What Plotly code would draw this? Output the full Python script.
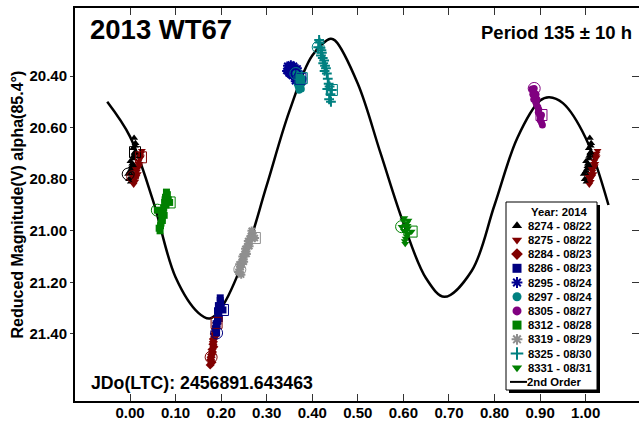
import plotly.graph_objects as go

# ---------------- data ----------------
curve_phase = [-0.05, 0.00, 0.05, 0.10, 0.15, 0.175, 0.20, 0.25, 0.30, 0.35, 0.40, 0.44, 0.45, 0.50,
               0.55, 0.60, 0.65, 0.69, 0.75, 0.80, 0.85, 0.90, 0.92, 0.95, 1.00, 1.05]
curve_mag = [20.50, 20.635, 20.88, 21.18, 21.318, 21.340, 21.30, 21.11, 20.824, 20.535, 20.32, 20.255, 20.262, 20.43,
             20.70, 20.97, 21.185, 21.256, 21.155, 20.90, 20.64, 20.495, 20.482, 20.505, 20.64, 20.90]

session_ids = ["8274", "8275", "8284", "8286", "8295", "8297", "8305", "8312", "8319", "8325", "8331"]
session_dates = ["08/22", "08/22", "08/23", "08/23", "08/24", "08/24", "08/27", "08/28", "08/29", "08/30", "08/31"]
session_colors = ["#000000", "#800000", "#800000", "#000080", "#000090", "#008080", "#800080",
                  "#008000", "#8f8f8f", "#008080", "#008000"]
session_symbols = ["triangle-up", "triangle-down", "diamond", "square", "asterisk-open", "circle", "circle",
                   "square", "asterisk-open", "cross-thin-open", "triangle-down"]

p8274 = [-0.004, -0.002, 0.000, 0.002, 0.004, 0.006, 0.008, 0.010, 0.012, 0.009, 0.007, 0.005, 0.003, 0.001, 0.011, 0.013, 0.008, 0.006, 0.010, 0.011]
m8274 = [20.78, 20.80, 20.77, 20.81, 20.75, 20.79, 20.72, 20.70, 20.66, 20.64, 20.68, 20.74, 20.76, 20.73, 20.67, 20.70, 20.71, 20.78, 20.75, 20.695]
p8275 = [0.006, 0.008, 0.010, 0.012, 0.014, 0.016, 0.018, 0.020, 0.022, 0.024, 0.026, 0.011, 0.015, 0.019, 0.023, 0.017, 0.013, 0.021, 0.024]
m8275 = [20.79, 20.82, 20.80, 20.78, 20.79, 20.76, 20.74, 20.75, 20.72, 20.70, 20.69, 20.81, 20.77, 20.73, 20.71, 20.78, 20.76, 20.74, 20.715]
p8284 = [0.178, 0.176, 0.177, 0.179, 0.180, 0.181, 0.182, 0.183, 0.185, 0.186, 0.188, 0.184, 0.187, 0.189, 0.191, 0.180, 0.183, 0.190]
m8284 = [21.49, 21.52, 21.50, 21.48, 21.46, 21.47, 21.44, 21.42, 21.40, 21.41, 21.38, 21.45, 21.39, 21.37, 21.36, 21.51, 21.43, 21.357]
p8286 = [0.190, 0.188, 0.189, 0.191, 0.192, 0.193, 0.194, 0.195, 0.196, 0.197, 0.198, 0.199, 0.192, 0.196, 0.200, 0.194, 0.198, 0.204]
m8286 = [21.396, 21.38, 21.36, 21.37, 21.34, 21.35, 21.32, 21.33, 21.30, 21.29, 21.27, 21.28, 21.31, 21.34, 21.30, 21.29, 21.26, 21.307]
p8295 = [0.351, 0.343, 0.345, 0.348, 0.350, 0.353, 0.355, 0.358, 0.360, 0.363, 0.365, 0.368, 0.370, 0.347, 0.356, 0.362, 0.352, 0.366, 0.372, 0.374]
m8295 = [20.381, 20.38, 20.36, 20.39, 20.37, 20.355, 20.40, 20.38, 20.36, 20.39, 20.41, 20.37, 20.40, 20.375, 20.365, 20.42, 20.395, 20.385, 20.39, 20.41]
p8297 = [0.364, 0.366, 0.368, 0.370, 0.372, 0.374, 0.376, 0.378, 0.380, 0.369, 0.373, 0.377, 0.371, 0.375, 0.367, 0.377]
m8297 = [20.39, 20.40, 20.42, 20.41, 20.43, 20.44, 20.45, 20.42, 20.41, 20.44, 20.40, 20.43, 20.455, 20.42, 20.43, 20.408]
p8305 = [0.887, 0.882, 0.884, 0.886, 0.888, 0.890, 0.892, 0.893, 0.895, 0.897, 0.899, 0.901, 0.903, 0.905, 0.891, 0.896, 0.900, 0.903]
m8305 = [20.448, 20.45, 20.47, 20.49, 20.48, 20.50, 20.51, 20.49, 20.52, 20.53, 20.55, 20.56, 20.58, 20.59, 20.47, 20.54, 20.57, 20.551]
p8312 = [0.060, 0.064, 0.066, 0.068, 0.070, 0.072, 0.074, 0.076, 0.078, 0.080, 0.082, 0.084, 0.067, 0.071, 0.075, 0.079, 0.069, 0.073, 0.077, 0.087]
m8312 = [20.92, 20.99, 21.00, 20.97, 20.95, 20.93, 20.91, 20.89, 20.87, 20.85, 20.86, 20.88, 20.98, 20.96, 20.94, 20.90, 20.93, 20.92, 20.88, 20.89]
p8319 = [0.241, 0.238, 0.240, 0.243, 0.245, 0.247, 0.249, 0.251, 0.253, 0.255, 0.257, 0.259, 0.261, 0.263, 0.265, 0.267, 0.269, 0.244, 0.250, 0.256, 0.262, 0.268, 0.274]
m8319 = [21.15, 21.16, 21.13, 21.14, 21.12, 21.10, 21.11, 21.09, 21.07, 21.08, 21.06, 21.04, 21.05, 21.03, 21.02, 21.00, 21.01, 21.17, 21.12, 21.09, 21.06, 21.03, 21.028]
p8325 = [0.413, 0.415, 0.416, 0.418, 0.420, 0.419, 0.421, 0.423, 0.424, 0.426, 0.428, 0.427, 0.430, 0.432, 0.434, 0.436, 0.438, 0.440, 0.437, 0.441, 0.433, 0.443]
m8325 = [20.288, 20.26, 20.27, 20.29, 20.30, 20.32, 20.31, 20.33, 20.35, 20.34, 20.36, 20.38, 20.37, 20.39, 20.41, 20.43, 20.44, 20.47, 20.49, 20.50, 20.45, 20.454]
p8331 = [0.596, 0.600, 0.602, 0.604, 0.606, 0.608, 0.610, 0.612, 0.605, 0.603, 0.607, 0.609, 0.601, 0.611, 0.604, 0.608, 0.618]
m8331 = [20.984, 20.96, 20.95, 20.98, 21.00, 20.97, 20.99, 21.01, 21.03, 21.04, 21.02, 20.98, 21.00, 20.96, 21.05, 21.01, 21.003]

session_phase = [p8274, p8275, p8284, p8286, p8295, p8297, p8305, p8312, p8319, p8325, p8331]
session_mag = [m8274, m8275, m8284, m8286, m8295, m8297, m8305, m8312, m8319, m8325, m8331]
wrap_sessions = ["8274", "8275"]   # repeated one cycle later

x_ticks = [0.0, 0.1, 0.2, 0.3, 0.4, 0.5, 0.6, 0.7, 0.8, 0.9, 1.0]
y_ticks = [20.4, 20.6, 20.8, 21.0, 21.2, 21.4]
x_range = [-0.1207, 1.117]
y_range = [21.66, 20.136]

title_text = "2013 WT67"
period_text = "Period 135 ± 10 h"
jd_text = "JDo(LTC): 2456891.643463"
ylabel_text = "Reduced Magnitude(V) alpha(85.4°)"
legend_title = "Year: 2014"
fit_label = "2nd Order"

# ---------------- figure ----------------
FONT = "Liberation Sans, Arial, sans-serif"
W, H = 639, 421
ML, MR, MT, MB = 75, 0, 8, 20
PW, PH = W - ML - MR, H - MT - MB


def px_x(px):
    return (px - ML) / PW


def px_y(py):
    return (H - MB - py) / PH


fig = go.Figure()

fig.add_trace(go.Scatter(x=curve_phase, y=curve_mag, mode="lines",
                         line=dict(color="black", width=2.5, shape="spline", smoothing=1.0),
                         showlegend=False, hoverinfo="skip"))


def marker_style(sym, col, size):
    if sym.endswith("-open"):
        return dict(symbol=sym, size=size, color=col, line=dict(color=col, width=2))
    return dict(symbol=sym, size=size, color=col, line=dict(width=0))


for sid, ph, mg, col, sym in zip(session_ids, session_phase, session_mag, session_colors, session_symbols):
    fig.add_trace(go.Scatter(x=ph, y=mg, mode="markers", marker=marker_style(sym, col, 7),
                             showlegend=False, hoverinfo="skip"))
    if sid in wrap_sessions:
        fig.add_trace(go.Scatter(x=[p + 1 for p in ph], y=mg, mode="markers",
                                 marker=marker_style(sym, col, 7), showlegend=False, hoverinfo="skip"))

for ph, mg, col in zip(session_phase, session_mag, session_colors):
    fig.add_trace(go.Scatter(x=[ph[0]], y=[mg[0]], mode="markers",
                             marker=dict(symbol="circle-open", size=12, color=col, line=dict(color=col, width=1)),
                             showlegend=False, hoverinfo="skip"))
    fig.add_trace(go.Scatter(x=[ph[-1]], y=[mg[-1]], mode="markers",
                             marker=dict(symbol="square-open", size=11, color=col, line=dict(color=col, width=1)),
                             showlegend=False, hoverinfo="skip"))

# ---------------- manual legend ----------------
LX0, LX1, LY0, LY1 = 506, 597, 202, 390
fig.add_shape(type="rect", xref="paper", yref="paper", layer="below",
              x0=px_x(LX0 + 3), x1=px_x(LX1 + 3), y0=px_y(LY1 + 3), y1=px_y(LY0 + 3),
              fillcolor="black", line=dict(width=0))
fig.add_shape(type="rect", xref="paper", yref="paper", layer="below",
              x0=px_x(LX0), x1=px_x(LX1), y0=px_y(LY1), y1=px_y(LY0),
              fillcolor="white", line=dict(color="black", width=1))

LFONT = dict(family=FONT, size=11.3, color="black", weight="bold")
row0, step = 225.7, 14.2
fig.add_annotation(x=px_x(559), y=px_y(212), xref="paper", yref="paper", text=legend_title,
                   showarrow=False, xanchor="center", yanchor="middle", font=LFONT)
for i, (sid, dt, col, sym) in enumerate(zip(session_ids, session_dates, session_colors, session_symbols)):
    yy = row0 + i * step
    fig.add_trace(go.Scatter(x=[517], y=[yy], xaxis="x3", yaxis="y3", mode="markers",
                             marker=marker_style(sym, col, 9), showlegend=False, hoverinfo="skip"))
    fig.add_annotation(x=px_x(526), y=px_y(yy), xref="paper", yref="paper", text=f"{sid} - {dt}",
                       showarrow=False, xanchor="left", yanchor="middle", font=LFONT)
yy = row0 + len(session_ids) * step
fig.add_trace(go.Scatter(x=[510, 527], y=[yy, yy], xaxis="x3", yaxis="y3", mode="lines",
                         line=dict(color="black", width=2), showlegend=False, hoverinfo="skip"))
fig.add_annotation(x=px_x(525), y=px_y(yy), xref="paper", yref="paper", text=fit_label,
                   showarrow=False, xanchor="left", yanchor="middle", font=LFONT)

# ---------------- texts ----------------
fig.add_annotation(x=px_x(88), y=px_y(30), xref="paper", yref="paper", text=title_text,
                   showarrow=False, xanchor="left", yanchor="middle",
                   font=dict(family=FONT, size=27.5, color="black", weight="bold"))
fig.add_annotation(x=px_x(634), y=px_y(32.5), xref="paper", yref="paper", text=period_text,
                   showarrow=False, xanchor="right", yanchor="middle",
                   font=dict(family=FONT, size=18.5, color="black", weight="bold"))
fig.add_annotation(x=px_x(89), y=px_y(383), xref="paper", yref="paper", text=jd_text,
                   showarrow=False, xanchor="left", yanchor="middle",
                   font=dict(family=FONT, size=17.7, color="black", weight="bold"))
fig.add_annotation(x=px_x(17), y=px_y(204.5), xref="paper", yref="paper", text=ylabel_text,
                   showarrow=False, xanchor="center", yanchor="middle", textangle=-90,
                   font=dict(family=FONT, size=16, color="black", weight="bold"))

tickfont = dict(family=FONT, size=15, color="black", weight="bold")
fig.update_layout(
    template="none",
    width=W, height=H, margin=dict(l=ML, r=MR, t=MT, b=MB, autoexpand=False),
    paper_bgcolor="white", plot_bgcolor="white", showlegend=False,
    xaxis=dict(range=x_range, tickvals=x_ticks, ticktext=[f"{v:.2f}" for v in x_ticks],
               ticks="inside", ticklen=7, tickwidth=1, tickcolor="#333", automargin=False,
               showline=True, linecolor="black", linewidth=2, mirror="ticks",
               ticklabelstandoff=-3,
               showgrid=False, zeroline=False, tickfont=tickfont),
    yaxis=dict(range=y_range, tickvals=y_ticks, ticktext=[f"{v:.2f}" for v in y_ticks],
               ticks="outside", ticklen=3, tickwidth=1, tickcolor="#333", automargin=False,
               showline=True, linecolor="black", linewidth=2, mirror=False,
               showgrid=False, zeroline=False, tickfont=tickfont),
    yaxis2=dict(range=y_range, tickvals=y_ticks, overlaying="y", side="right", anchor="x",
                ticks="inside", ticklen=7, tickwidth=1, tickcolor="#333", automargin=False,
                showticklabels=False, showline=False, showgrid=False, zeroline=False),
    xaxis3=dict(range=[ML, W - MR], overlaying="x", anchor="y3", visible=False, automargin=False),
    yaxis3=dict(range=[H - MB, MT], overlaying="y", anchor="x3", visible=False, automargin=False),
)
# dummy trace to materialise the right-hand tick axis
fig.add_trace(go.Scatter(x=[None], y=[None], yaxis="y2", showlegend=False, hoverinfo="skip"))

fig.write_html("out.html", config={"displayModeBar": False},
               post_script="document.body.style.margin='0';document.body.style.overflow='hidden';")
